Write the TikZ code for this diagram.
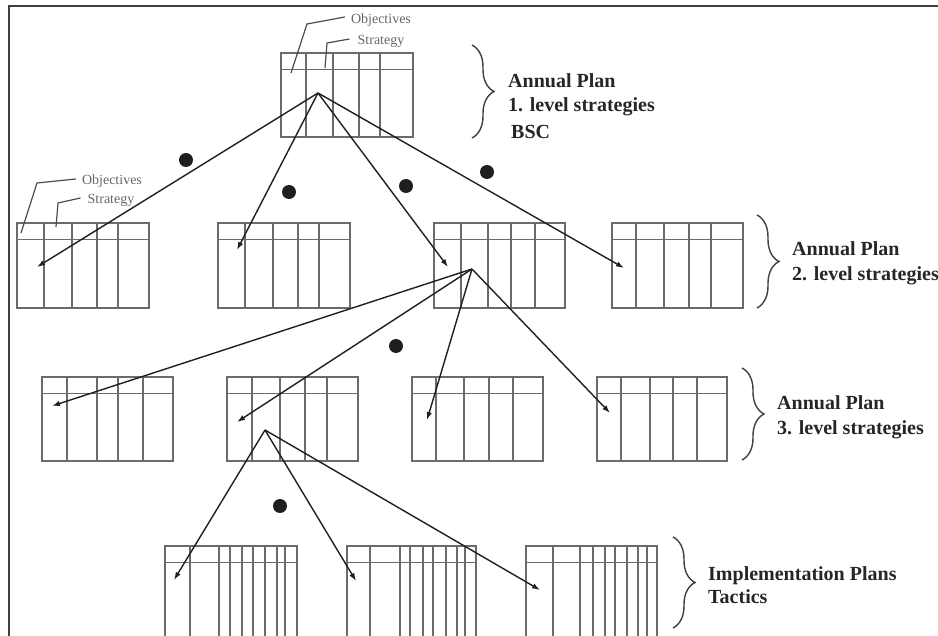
\documentclass[tikz,border=0pt]{standalone}
\usepackage{fontspec}
\setmainfont{Liberation Serif}
\usetikzlibrary{arrows.meta,decorations.pathreplacing}

\tikzset{
  frameline/.style={line width=2.2pt, draw=black!75},
  tableline/.style={line width=1.1pt, draw=black!58},
  conn/.style={line width=1.4pt, draw=black!88, -{Latex[length=8pt,width=5.5pt]}},
  leader/.style={line width=1.2pt, draw=black!70},
  bulletdot/.style={circle, fill=black!88, inner sep=0pt, minimum size=14pt},
  levelbrace/.style={line width=1.4pt, draw=black!75, decorate,
    decoration={brace, amplitude=22pt}},
  leveltext/.style={font=\fontsize{20}{24}\selectfont\bfseries, text=black!85,
    inner sep=0pt, anchor=base west},
  calltext/.style={font=\fontsize{14}{16}\selectfont, text=black!60, inner sep=0pt}
}

% \plantable{left}{top}{right}{bottom}{column rules}
\newcommand\plantable[5]{%
  \draw[tableline] (#1,#2) rectangle (#3,#4);
  \draw[tableline] (#1,#2+16.5) -- (#3,#2+16.5);
  \foreach \vx in {#5} \draw[tableline] (\vx,#2) -- (\vx,#4);
}

\begin{document}
\begin{tikzpicture}[x=1pt,y=-1pt]
\useasboundingbox (0,0) rectangle (938,636);
\clip (0,0) rectangle (938,636);

% frame
\draw[frameline] (9,640) -- (9,6) -- (940,6);

% level 1
\plantable{281}{53}{413}{137}{306,333,359,380}
% level 2
\plantable{17}{223}{149}{308}{44,72,97,118}
\plantable{218}{223}{350}{308}{245,273,298,319}
\plantable{434}{223}{565}{308}{461,488,511,535}
\plantable{612}{223}{743}{308}{636,664,689,711}
% level 3
\plantable{42}{377}{173}{461}{67,97,118,143}
\plantable{227}{377}{358}{461}{252,280,305,327}
\plantable{412}{377}{543}{461}{436,464,489,513}
\plantable{597}{377}{727}{461}{621,650,673,697}
% implementation plans
\plantable{165}{546}{297}{650}{190,219,230,242,253,265,277,285}
\plantable{347}{546}{476}{650}{370,400,410,423,433,446,457,465}
\plantable{526}{546}{657}{650}{553,580,593,605,615,627,638,647}

% column callouts
\node[calltext] (objA) at (381,20) {Objectives};
\node[calltext] (strA) at (381,41) {Strategy};
\draw[leader] ([xshift=-6pt,yshift=3pt]objA.west) -- (307,24) -- (291,73);
\draw[leader] ([xshift=-8pt,yshift=2pt]strA.west) -- (327,43) -- (325,68);
\node[calltext] (objB) at (112,181) {Objectives};
\node[calltext] (strB) at (111,200) {Strategy};
\draw[leader] ([xshift=-6pt,yshift=2pt]objB.west) -- (37,183) -- (21,233);
\draw[leader] ([xshift=-7pt,yshift=2pt]strB.west) -- (58,203) -- (56,227);

% cascade points
\coordinate (s1) at (318,93);
\coordinate (s2) at (472,269);
\coordinate (s3) at (265,430);
\coordinate (t21) at (37,267);
\coordinate (t22) at (237,250);
\coordinate (t23) at (448,267);
\coordinate (t24) at (624,268);
\coordinate (t31) at (52,406);
\coordinate (t32) at (237,422);
\coordinate (t33) at (427,420);
\coordinate (t34) at (610,413);
\coordinate (t41) at (174,580);
\coordinate (t42) at (356,581);
\coordinate (t43) at (540,590);

\foreach \t in {t21,t22,t23,t24} \draw[conn] (s1) -- (\t);
\foreach \t in {t31,t32,t33,t34} \draw[conn] (s2) -- (\t);
\foreach \t in {t41,t42,t43} \draw[conn] (s3) -- (\t);

% bullets
\node[bulletdot] (d1) at (186,160) {};
\node[bulletdot] (d2) at (289,192) {};
\node[bulletdot] (d3) at (406,186) {};
\node[bulletdot] (d4) at (487,172) {};
\node[bulletdot] (d5) at (396,346) {};
\node[bulletdot] (d6) at (280,506) {};

% braces and level labels
\draw[levelbrace] (472,45) -- (472,138);
\node[leveltext] (l1a) at (508,88) {Annual Plan};
\node[leveltext] (l1b) at (508,112) {1. level strategies};
\node[leveltext] (l1c) at (511,139) {BSC};

\draw[levelbrace] (757,215) -- (757,308);
\node[leveltext] (l2a) at (792,256) {Annual Plan};
\node[leveltext] (l2b) at (792,281) {2. level strategies};

\draw[levelbrace] (742,368) -- (742,460);
\node[leveltext] (l3a) at (777,410) {Annual Plan};
\node[leveltext] (l3b) at (777,435) {3. level strategies};

\draw[levelbrace] (673,537) -- (673,628);
\node[leveltext] (l4a) at (708,580) {Implementation Plans};
\node[leveltext] (l4b) at (708,603) {Tactics};
\end{tikzpicture}
\end{document}
